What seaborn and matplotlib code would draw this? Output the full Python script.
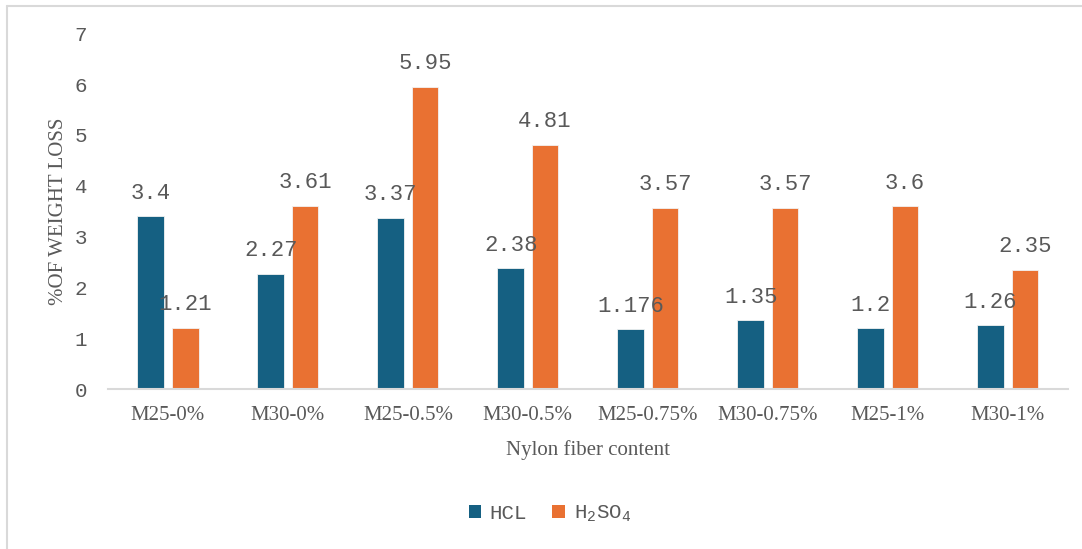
import matplotlib
matplotlib.use("Agg")
import matplotlib.pyplot as plt
from matplotlib.lines import Line2D
from matplotlib.patches import Patch
import pandas as pd
import seaborn as sns

# Weight loss (%) after acid attack, per mix and nylon fibre content
categories = ["M25-0%", "M30-0%", "M25-0.5%", "M30-0.5%",
              "M25-0.75%", "M30-0.75%", "M25-1%", "M30-1%"]
hcl = [3.4, 2.27, 3.37, 2.38, 1.176, 1.35, 1.2, 1.26]
h2so4 = [1.21, 3.61, 5.95, 4.81, 3.57, 3.57, 3.6, 2.35]
series_names = ["HCL", "H$_2$SO$_4$"]
colors = ["#156082", "#E97132"]
y_ticks = [0, 1, 2, 3, 4, 5, 6, 7]

df = pd.DataFrame({
    "content": categories * 2,
    "loss": hcl + h2so4,
    "acid": [series_names[0]] * len(hcl) + [series_names[1]] * len(h2so4),
})

sns.set_theme(style="white")
plt.rcParams["mathtext.fontset"] = "custom"
plt.rcParams["mathtext.rm"] = "Liberation Mono"
plt.rcParams["mathtext.it"] = "Liberation Mono"

text_gray = "#595959"
mono = "Liberation Mono"
serif = "Liberation Serif"

fig = plt.figure(figsize=(10.82, 5.49), dpi=100)
ax = fig.add_axes([0.0998, 0.2914, 0.8870, 0.6478])

sns.barplot(data=df, x="content", y="loss", hue="acid", order=categories,
            hue_order=series_names, palette=colors, saturation=1,
            width=0.572, gap=0.22, edgecolor="#F2F2F2", linewidth=0.6,
            legend=False, ax=ax)

# Value labels above each bar
for cont, vals in zip(ax.containers, [hcl, h2so4]):
    ax.bar_label(cont, labels=[f"{v:g}" for v in vals], padding=9,
                 fontsize=16, family=mono, color=text_gray)

ax.set_ylim(0, 7)
ax.set_xlim(-0.5, len(categories) - 0.5)
ax.set_yticks(y_ticks)
ax.set_yticklabels([str(t) for t in y_ticks], family=mono, fontsize=15,
                   color=text_gray)
ax.set_xticks(range(len(categories)))
ax.set_xticklabels(categories, family=serif, fontsize=15, color=text_gray)
ax.tick_params(axis="y", length=0, pad=15)
ax.tick_params(axis="x", length=0, pad=12)

ax.set_xlabel("Nylon fiber content", family=serif, fontsize=15,
              color=text_gray, labelpad=11)
ax.set_ylabel("%OF WEIGHT LOSS", family=serif, fontsize=15,
              color=text_gray, labelpad=5)

for side in ["top", "right", "left"]:
    ax.spines[side].set_visible(False)
ax.spines["bottom"].set_color("#D9D9D9")
ax.spines["bottom"].set_linewidth(1.5)
ax.grid(False)

handles = [Patch(facecolor=c, edgecolor="none") for c in colors]
fig.legend(handles, series_names, loc="center", bbox_to_anchor=(0.508, 0.064),
           ncol=2, frameon=False, handlelength=0.62, handleheight=0.62,
           handletextpad=0.4, columnspacing=1.2,
           prop={"family": mono, "size": 15}, labelcolor=text_gray)

# Chart-area frame
fig.add_artist(Line2D([0.0065, 1.0], [0.989, 0.989], transform=fig.transFigure,
                      color="#D9D9D9", linewidth=1.5))
fig.add_artist(Line2D([0.0065, 0.0065], [0.0, 0.989], transform=fig.transFigure,
                      color="#D9D9D9", linewidth=1.5))

fig.savefig("out.png", dpi=100)
